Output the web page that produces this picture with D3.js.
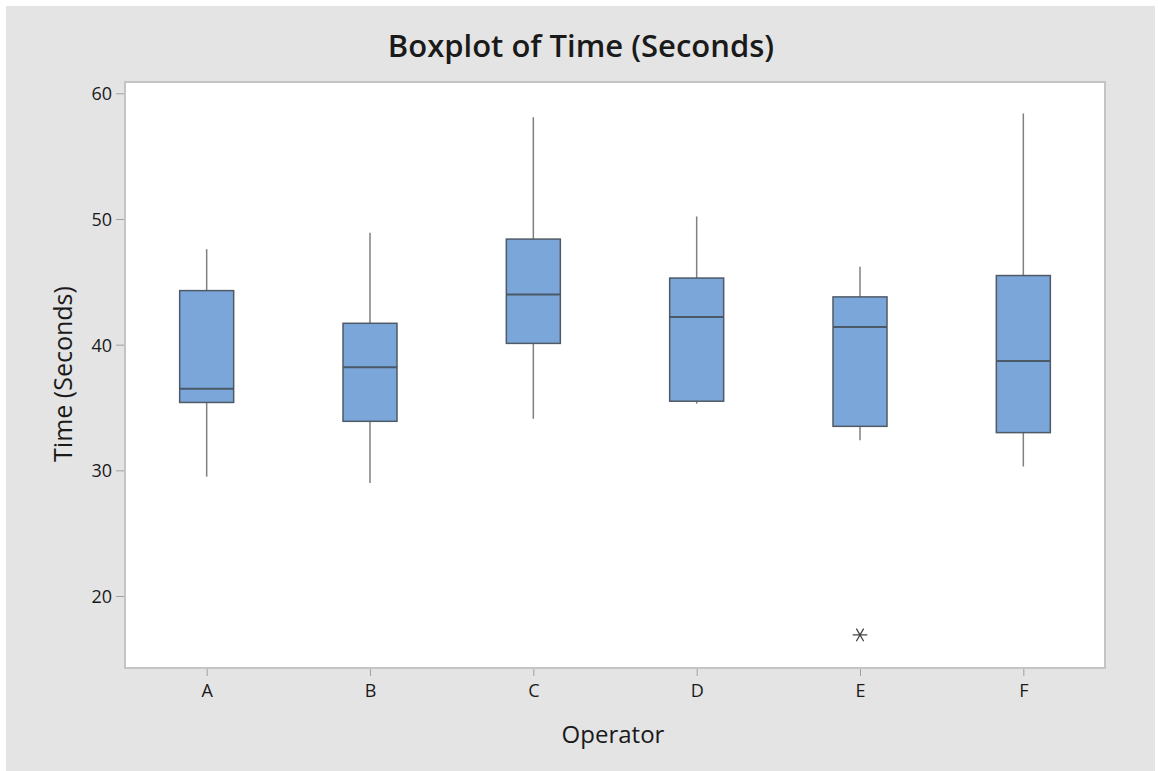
<!DOCTYPE html>
<html>
<head>
<meta charset="utf-8">
<script src="https://cdn.jsdelivr.net/npm/d3@7"></script>
<style>
  body { margin: 0; background: #fff; }
  text { font-family: "Open Sans", "Noto Sans", sans-serif; fill: #1a1a1a; }
</style>
</head>
<body>
<div id="chart"></div>
<script>
// operators and their box statistics
var operators = ["A", "B", "C", "D", "E", "F"];
var whiskerLow  = [29.5, 29.0, 34.1, 35.3, 32.4, 30.3];
var q1          = [35.4, 33.9, 40.1, 35.5, 33.5, 33.0];
var medians     = [36.5, 38.2, 44.0, 42.2, 41.4, 38.7];
var q3          = [44.3, 41.7, 48.4, 45.3, 43.8, 45.5];
var whiskerHigh = [47.6, 48.9, 58.1, 50.2, 46.2, 58.4];
var outliers    = [{op: "E", value: 16.9}];
var yTicks = [20, 30, 40, 50, 60];

var svgWidth = 1158;
var svgHeight = 771;
var margin = {top: 82, right: 53, bottom: 103, left: 125};
var chart_width = svgWidth - margin.left - margin.right;
var chart_height = svgHeight - margin.top - margin.bottom;

var SVG = d3.select("#chart").append("svg")
  .attr("width", svgWidth)
  .attr("height", svgHeight);

// gray panel behind everything
SVG.append("rect")
  .attr("x", 6).attr("y", 6)
  .attr("width", svgWidth - 9).attr("height", svgHeight - 6)
  .attr("fill", "#e4e4e4");

var chart_group = SVG.append("g")
  .attr("transform", `translate(${margin.left}, ${margin.top})`);

chart_group.append("rect")
  .attr("width", chart_width).attr("height", chart_height)
  .attr("fill", "#fff")
  .attr("stroke", "#c4c4c4")
  .attr("stroke-width", 2);

var xScale = d3.scalePoint().domain(operators).range([0, chart_width]).padding(0.5);
var yScale = d3.scaleLinear().domain([14.27, 60.9]).range([chart_height, 0]);

// axes
var yAxis = d3.axisLeft(yScale).tickValues(yTicks).tickSize(8).tickPadding(4);
var xAxis = d3.axisBottom(xScale).tickSize(7).tickPadding(8);

var yG = chart_group.append("g").attr("transform", "translate(-1,0)").call(yAxis);
var xG = chart_group.append("g").attr("transform", `translate(0, ${chart_height + 1})`).call(xAxis);
[yG, xG].forEach(function(g) {
  g.select(".domain").remove();
  g.selectAll("line").attr("stroke", "#a0a0a0");
  g.selectAll("text")
    .style("font-size", "18px")
    .style("font-weight", 500)
    .style("fill", "#1a1a1a")
    .style("font-family", "'Open Sans', 'Noto Sans', sans-serif");
});
yG.selectAll("text").attr("dy", "0.36em");

var boxW = 54;
var stats = operators.map(function(op, i) {
  return {op: op, lo: whiskerLow[i], q1: q1[i], med: medians[i], q3: q3[i], hi: whiskerHigh[i]};
});

var boxes = chart_group.selectAll(".box").data(stats).enter().append("g")
  .attr("transform", d => `translate(${xScale(d.op)},0)`);

// whiskers
boxes.append("line")
  .attr("x1", 0).attr("x2", 0)
  .attr("y1", d => yScale(d.hi)).attr("y2", d => yScale(d.q3))
  .attr("stroke", "#808080").attr("stroke-width", 1.5);
boxes.append("line")
  .attr("x1", 0).attr("x2", 0)
  .attr("y1", d => yScale(d.q1)).attr("y2", d => yScale(d.lo))
  .attr("stroke", "#808080").attr("stroke-width", 1.5);

// box
boxes.append("rect")
  .attr("x", -boxW / 2).attr("width", boxW)
  .attr("y", d => yScale(d.q3))
  .attr("height", d => yScale(d.q1) - yScale(d.q3))
  .attr("fill", "#7ba6d9")
  .attr("stroke", "#505a66").attr("stroke-width", 1.5);

// median
boxes.append("line")
  .attr("x1", -boxW / 2).attr("x2", boxW / 2)
  .attr("y1", d => yScale(d.med)).attr("y2", d => yScale(d.med))
  .attr("stroke", "#4a5868").attr("stroke-width", 2);

// outliers drawn as asterisks (horizontal bar + two diagonals)
chart_group.selectAll(".outlier").data(outliers).enter().append("path")
  .attr("transform", d => `translate(${xScale(d.op)},${yScale(d.value)}) rotate(90)`)
  .attr("d", d3.symbol(d3.symbolAsterisk, 150))
  .attr("fill", "none")
  .attr("stroke", "#444").attr("stroke-width", 1.3);

// title
SVG.append("text")
  .attr("x", 581).attr("y", 57)
  .attr("text-anchor", "middle")
  .attr("font-size", "31px")
  .attr("font-weight", 600)
  .text("Boxplot of Time (Seconds)");

// x label
SVG.append("text")
  .attr("x", margin.left + chart_width / 2 - 2).attr("y", 743)
  .attr("text-anchor", "middle")
  .attr("font-size", "24px")
  .attr("font-weight", 500)
  .text("Operator");

// y label
SVG.append("text")
  .attr("transform", "rotate(-90)")
  .attr("x", -374)
  .attr("y", 72)
  .attr("text-anchor", "middle")
  .attr("font-size", "25px")
  .attr("font-weight", 500)
  .text("Time (Seconds)");
</script>
</body>
</html>
